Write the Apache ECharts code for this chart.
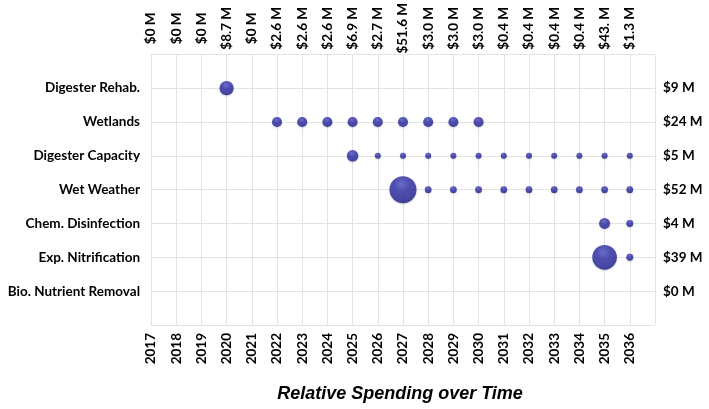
<!DOCTYPE html>
<html><head><meta charset="utf-8">
<script src="https://cdn.jsdelivr.net/npm/echarts@6/dist/echarts.min.js"></script>
<style>html,body{margin:0;padding:0;background:#fff}#c{width:709px;height:409px}</style>
</head><body><div id="c"></div>
<script>
// Years on the x axis
const years = [2017,2018,2019,2020,2021,2022,2023,2024,2025,2026,2027,2028,2029,2030,2031,2032,2033,2034,2035,2036];
// Yearly spending labels (top axis)
const yearSpend = ['$0 M','$0 M','$0 M','$8.7 M','$0 M','$2.6 M','$2.6 M','$2.6 M','$6.9 M','$2.7 M','$51.6 M','$3.0 M','$3.0 M','$3.0 M','$0.4 M','$0.4 M','$0.4 M','$0.4 M','$43. M','$1.3 M'];
// Projects, bottom to top
const categories = ['Bio. Nutrient Removal','Exp. Nitrification','Chem. Disinfection','Wet Weather','Digester Capacity','Wetlands','Digester Rehab.'];
// Project totals (right axis)
const totals = ['$0 M','$39 M','$4 M','$52 M','$5 M','$24 M','$9 M'];
// Spending ($M) per project per year, aligned with years
const bioNutrient   = [null,null,null,null,null,null,null,null,null,null,null,null,null,null,null,null,null,null,null,null];
const expNitrif     = [null,null,null,null,null,null,null,null,null,null,null,null,null,null,null,null,null,null,38.9,0.4];
const chemDisinf    = [null,null,null,null,null,null,null,null,null,null,null,null,null,null,null,null,null,null,3.6,0.4];
const wetWeather    = [null,null,null,null,null,null,null,null,null,null,48.9,0.3,0.3,0.3,0.3,0.3,0.3,0.3,0.3,0.3];
const digCapacity   = [null,null,null,null,null,null,null,null,4.3,0.1,0.1,0.1,0.1,0.1,0.1,0.1,0.1,0.1,0.1,0.1];
const wetlands      = [null,null,null,null,null,2.6,2.6,2.6,2.6,2.6,2.6,2.6,2.6,2.6,null,null,null,null,null,null];
const digRehab      = [null,null,null,8.7,null,null,null,null,null,null,null,null,null,null,null,null,null,null,null,null];
const seriesValues = [bioNutrient, expNitrif, chemDisinf, wetWeather, digCapacity, wetlands, digRehab];

const font = 'Lato, "Open Sans", sans-serif';
const gridColor = '#e3e3e3';
const ball = {
  type: 'radial', x: 0.45, y: 0.3, r: 0.72,
  colorStops: [
    {offset: 0, color: '#5252c4'},
    {offset: 0.4, color: '#2c2ca4'},
    {offset: 0.85, color: '#222292'},
    {offset: 1, color: '#151570'}
  ]
};

const series = seriesValues.map((vals, row) => ({
  type: 'scatter',
  name: categories[row],
  xAxisIndex: 0, yAxisIndex: 0,
  data: vals.map((v, i) => v == null ? null : [years[i], row + 1, v]).filter(d => d),
  symbolSize: d => 5 + 3.15 * Math.sqrt(d[2]),
  itemStyle: {color: ball, shadowColor: 'rgba(0,0,40,0.2)', shadowBlur: 2, shadowOffsetY: 1},
  silent: true
}));

const chart = echarts.init(document.getElementById('c'), null, {renderer: 'canvas'});
chart.setOption({
  animation: false,
  backgroundColor: '#fff',
  title: {
    text: 'Relative Spending over Time',
    left: 395, top: 380, textAlign: 'center',
    textStyle: {fontFamily: '"Liberation Sans", Arial, sans-serif', fontSize: 18, fontWeight: 'bold', fontStyle: 'italic', color: '#000'}
  },
  grid: {left: 151, right: 54, top: 50, bottom: 84},
  xAxis: [{
    type: 'value', position: 'bottom', min: 2017, max: 2037, interval: 1,
    axisLine: {show: false}, axisTick: {show: false},
    splitLine: {show: true, lineStyle: {color: gridColor, width: 1}},
    axisLabel: {
      rotate: 90, margin: 8, fontFamily: font, fontWeight: 'bold', fontSize: 13.5, color: '#000',
      formatter: v => years.indexOf(v) >= 0 ? String(v) : ''
    }
  }, {
    type: 'value', position: 'top', min: 2017, max: 2037, interval: 1,
    axisLine: {show: false}, axisTick: {show: false}, splitLine: {show: false},
    axisLabel: {
      rotate: 90, margin: 26, align: 'center', verticalAlign: 'middle',
      fontFamily: font, fontWeight: 'bold', fontSize: 13.5, color: '#000',
      formatter: v => { const i = years.indexOf(v); return i >= 0 ? yearSpend[i] : ''; }
    }
  }],
  yAxis: [{
    type: 'value', position: 'left', min: 0, max: 8, interval: 1,
    axisLine: {show: false}, axisTick: {show: false},
    splitLine: {show: true, lineStyle: {color: gridColor, width: 1}},
    axisLabel: {
      margin: 11, fontFamily: font, fontWeight: 'bold', fontSize: 13.5, color: '#000',
      formatter: v => (v >= 1 && v <= categories.length) ? categories[v - 1] : ''
    }
  }, {
    type: 'value', position: 'right', min: 0, max: 8, interval: 1,
    axisLine: {show: false}, axisTick: {show: false}, splitLine: {show: false},
    axisLabel: {
      margin: 8, fontFamily: font, fontWeight: 'bold', fontSize: 13.5, color: '#000',
      formatter: v => (v >= 1 && v <= totals.length) ? totals[v - 1] : ''
    }
  }],
  series: series
});
</script></body></html>
